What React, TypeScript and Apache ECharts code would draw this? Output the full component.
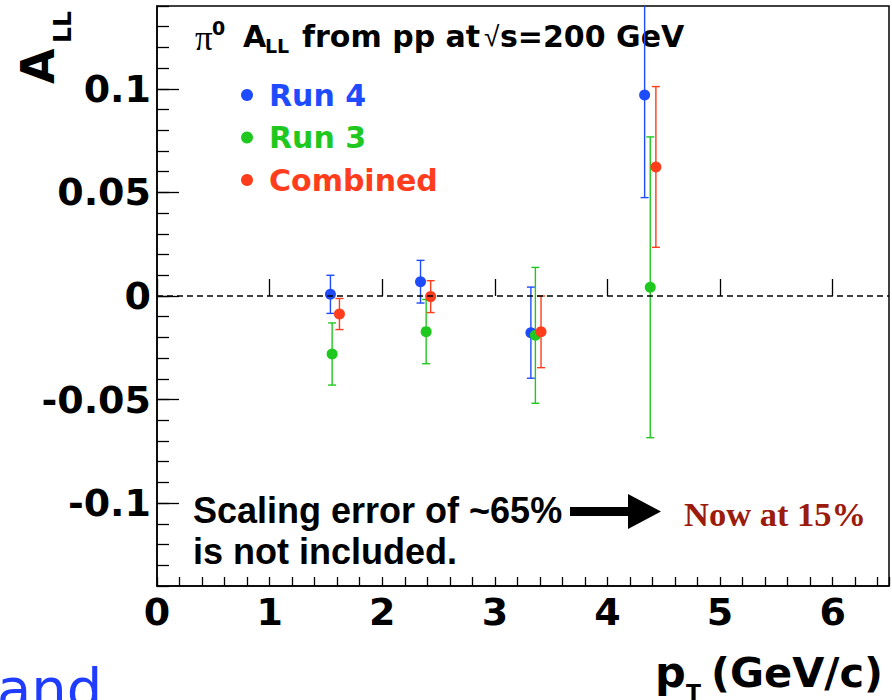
import React, { useEffect, useRef } from 'react';
import * as echarts from 'echarts';

// pi0 double-helicity asymmetry A_LL vs pT, three data sets
const ptRun4 = [1.54, 2.34, 3.32, 4.33];
const allRun4 = [0.0008, 0.0069, -0.0177, 0.097];
const errRun4 = [0.0092, 0.0103, 0.022, 0.0495];

const ptRun3 = [1.555, 2.39, 3.36, 4.38];
const allRun3 = [-0.028, -0.0172, -0.019, 0.0042];
const errRun3 = [0.015, 0.0155, 0.0328, 0.0726];

const ptComb = [1.62, 2.43, 3.41, 4.43];
const allComb = [-0.0087, -0.0003, -0.0173, 0.0623];
const errComb = [0.0075, 0.0077, 0.0173, 0.0388];

const xMajorTicks = [0, 1, 2, 3, 4, 5, 6];
const yMajorTicks = [-0.1, -0.05, 0, 0.05, 0.1];

const BLUE = '#1f4bff';
const GREEN = '#1fc81f';
const RED = '#ff3c1c';

const SANS = '"DejaVu Sans", sans-serif';
const HELV = '"Liberation Sans", Arial, sans-serif';
const SERIF = '"Liberation Serif", "Times New Roman", serif';

function errorBars(name: string, color: string, xs: number[], ys: number[], es: number[]) {
  return {
    name,
    type: 'custom',
    clip: true,
    itemStyle: { color },
    encode: { x: 0, y: [1, 2] },
    data: xs.map((x, i) => [x, ys[i] - es[i], ys[i] + es[i]]),
    renderItem: (_params: any, api: any) => {
      const x = api.value(0);
      const lo = api.coord([x, api.value(1)]);
      const hi = api.coord([x, api.value(2)]);
      const cap = 4;
      const st = { stroke: color, lineWidth: 1.4 };
      return {
        type: 'group',
        children: [
          { type: 'line', shape: { x1: lo[0], y1: lo[1], x2: hi[0], y2: hi[1] }, style: st },
          { type: 'line', shape: { x1: lo[0] - cap, y1: lo[1], x2: lo[0] + cap, y2: lo[1] }, style: st },
          { type: 'line', shape: { x1: hi[0] - cap, y1: hi[1], x2: hi[0] + cap, y2: hi[1] }, style: st },
        ],
      };
    },
  };
}

function points(name: string, color: string, xs: number[], ys: number[]) {
  return {
    name,
    type: 'scatter',
    symbol: 'circle',
    symbolSize: 11,
    itemStyle: { color, opacity: 1 },
    data: xs.map((x, i) => [x, ys[i]]),
  };
}

function txt(x: number, y: number, text: string, size: number, opts: any = {}) {
  return {
    type: 'text',
    x,
    y,
    rotation: opts.rotation || 0,
    style: {
      text,
      fontSize: size,
      fontFamily: opts.family || SANS,
      fontWeight: opts.weight || 'bold',
      fill: opts.fill || '#000',
      align: 'left',
      verticalAlign: 'middle',
    },
  };
}

export default function App() {
  const ref = useRef<HTMLDivElement>(null);

  useEffect(() => {
    if (!ref.current) return;
    const chart = echarts.init(ref.current, undefined, { renderer: 'svg' });

    const axisLineStyle = { color: '#000', width: 1.5 };

    chart.setOption({
      animation: false,
      backgroundColor: '#fff',
      grid: {
        left: 157,
        right: 3,
        top: 6,
        bottom: 114,
        show: true,
        borderColor: '#000',
        borderWidth: 1.5,
        containLabel: false,
      },
      xAxis: [
        {
          type: 'value',
          position: 'bottom',
          min: 0,
          max: 6.5,
          interval: 0.2,
          axisLine: { show: true, onZero: false, lineStyle: axisLineStyle },
          axisTick: { show: true, inside: true, length: 9, lineStyle: { color: '#000', width: 1.3 } },
          axisLabel: {
            customValues: xMajorTicks,
            fontFamily: SANS,
            fontWeight: 'bold',
            fontSize: 38,
            color: '#000',
            margin: 7,
          },
          splitLine: { show: false },
        },
        {
          type: 'value',
          position: 'bottom',
          min: 0,
          max: 6.5,
          axisLine: { show: false },
          axisTick: {
            show: true,
            inside: true,
            length: 17,
            customValues: xMajorTicks,
            lineStyle: { color: '#000', width: 1.3 },
          },
          axisLabel: { show: false },
          splitLine: { show: false },
        },
      ],
      yAxis: [
        {
          type: 'value',
          position: 'left',
          min: -0.14,
          max: 0.14,
          interval: 0.01,
          axisLine: { show: true, onZero: false, lineStyle: axisLineStyle },
          axisTick: { show: true, inside: true, length: 12, lineStyle: { color: '#000', width: 1.3 } },
          axisLabel: {
            customValues: yMajorTicks,
            fontFamily: SANS,
            fontWeight: 'bold',
            fontSize: 38,
            color: '#000',
            margin: 6,
          },
          splitLine: { show: false },
        },
        {
          type: 'value',
          position: 'left',
          min: -0.14,
          max: 0.14,
          axisLine: { show: false },
          axisTick: {
            show: true,
            inside: true,
            length: 22,
            customValues: yMajorTicks,
            lineStyle: { color: '#000', width: 1.3 },
          },
          axisLabel: { show: false },
          splitLine: { show: false },
        },
      ],
      legend: {
        orient: 'vertical',
        left: 236,
        top: 75,
        itemWidth: 12,
        itemHeight: 12,
        itemGap: 12.5,
        selectedMode: false,
        textStyle: { fontFamily: SANS, fontWeight: 'bold', fontSize: 30, padding: [0, 0, 0, 11] },
        data: [
          { name: 'Run 4', icon: 'circle', itemStyle: { color: BLUE }, textStyle: { color: BLUE } },
          { name: 'Run 3', icon: 'circle', itemStyle: { color: GREEN }, textStyle: { color: GREEN } },
          { name: 'Combined', icon: 'circle', itemStyle: { color: RED }, textStyle: { color: RED } },
        ],
      },
      series: [
        {
          name: 'zero',
          type: 'line',
          symbol: 'none',
          silent: true,
          data: [[0, 0], [6.5, 0]],
          lineStyle: { color: '#000', width: 1.3, type: [6, 4] },
        },
        errorBars('Run 4', BLUE, ptRun4, allRun4, errRun4),
        points('Run 4', BLUE, ptRun4, allRun4),
        errorBars('Run 3', GREEN, ptRun3, allRun3, errRun3),
        points('Run 3', GREEN, ptRun3, allRun3),
        errorBars('Combined', RED, ptComb, allComb, errComb),
        points('Combined', RED, ptComb, allComb),
      ],
      graphic: [
        // plot title
        txt(195, 38, 'π', 35, { family: SERIF, weight: 'normal' }),
        txt(212, 28, '0', 19),
        txt(243, 36, 'A', 30),
        txt(265, 46, 'LL', 19),
        txt(302, 36, 'from pp at', 30),
        txt(484, 36, '√', 28, { family: HELV, weight: 'normal' }),
        txt(500, 36, 's=200 GeV', 30),
        // y-axis title
        txt(38, 84, 'A', 46, { rotation: Math.PI / 2 }),
        txt(62, 43, 'LL', 25, { rotation: Math.PI / 2 }),
        // x-axis title
        txt(655, 672, 'p', 43),
        txt(686, 692, 'T', 22),
        txt(711, 672, '(GeV/c)', 41.5),
        // scale-uncertainty note
        txt(193, 510, 'Scaling error of ~65%', 36, { family: HELV }),
        txt(193, 551, 'is not included.', 36, { family: HELV }),
        {
          type: 'polygon',
          shape: {
            points: [
              [570, 507],
              [628, 507],
              [628, 494],
              [661, 511.5],
              [628, 529],
              [628, 516],
              [570, 516],
            ],
          },
          style: { fill: '#000' },
        },
        txt(684, 514, 'Now at 15%', 34.5, { family: SERIF, fill: '#9b1b0c' }),
        txt(-3, 688, 'and', 56, { weight: 'normal', fill: '#1f3cff' }),
      ],
    });

    return () => chart.dispose();
  }, []);

  return (
    <div
      ref={ref}
      style={{ position: 'fixed', left: 0, top: 0, width: 892, height: 700, background: '#fff' }}
    />
  );
}
